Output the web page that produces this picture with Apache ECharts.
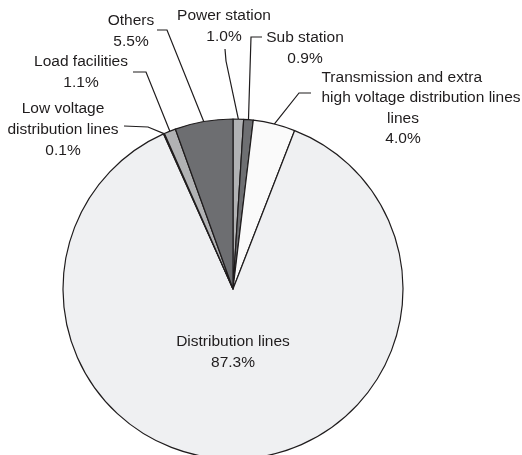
<!DOCTYPE html>
<html>
<head>
<meta charset="utf-8">
<script src="https://cdn.jsdelivr.net/npm/echarts@6/dist/echarts.min.js"></script>
<style>
  html, body { margin: 0; padding: 0; background: #fff; }
  #main { width: 522px; height: 455px; }
</style>
</head>
<body>
<div id="main"></div>
<script>
// slices, clockwise from 12 o'clock
var categories = [
  'Power station',
  'Sub station',
  'Transmission and extra\nhigh voltage distribution lines\nlines',
  'Distribution lines',
  'Low voltage\ndistribution lines',
  'Load facilities',
  'Others'
];
var shares = [1.0, 0.9, 4.0, 87.3, 0.1, 1.1, 5.5];

var sliceColors = ['#b1b2b4', '#6e6f72', '#fafafa', '#eff0f2', '#d8d9db', '#b1b2b4', '#6d6e71'];

// where each label text sits, and the two outer points of its leader line
var labelPos = [[224, 26], [305, 48], [421, 108], [233, 352], [63, 130], [81, 72], [131, 31]];
var leaderPts = [
  [[225, 49], [226, 61]],
  [[262, 37], [251, 37]],
  [[311, 93], [299, 93]],
  null,
  [[124, 126], [148, 127]],
  [[133, 72], [146, 72]],
  [[157, 30], [167, 30]]
];

var FONT = 'Liberation Sans, Arial, sans-serif';
var INK = '#1f1c1d';

var chart = echarts.init(document.getElementById('main'));

var pieData = categories.map(function (name, i) {
  return {
    name: name,
    value: shares[i],
    itemStyle: { color: sliceColors[i] },
    labelLine: { show: leaderPts[i] != null }
  };
});

function tok(align, pad) {
  return {
    align: align,
    fontFamily: FONT,
    fontSize: 15.5,
    lineHeight: 20.5,
    color: INK,
    padding: pad || 0
  };
}

chart.setOption({
  backgroundColor: '#fff',
  animation: false,
  series: [{
    type: 'pie',
    center: [233, 289],
    radius: 170,
    startAngle: 90,
    clockwise: true,
    avoidLabelOverlap: false,
    itemStyle: { borderColor: INK, borderWidth: 1.2 },
    label: {
      show: true,
      position: 'outside',
      color: INK,
      fontFamily: FONT,
      fontSize: 15.5,
      lineHeight: 21,
      align: 'center',
      formatter: function (p) {
        var pct = p.value.toFixed(1) + '%';
        // the transmission label has its first two lines flush left
        if (p.dataIndex === 2) {
          var parts = p.name.split('\n');
          return '{l|' + parts[0] + '}\n{l|' + parts[1] + '}\n{c|' + parts[2] + '}\n{c|' + pct + '}';
        }
        return p.name + '\n' + pct;
      },
      rich: {
        l: tok('left'),
        c: tok('center', [0, 36, 0, 0])
      }
    },
    labelLine: {
      show: true,
      lineStyle: { color: INK, width: 1.2 }
    },
    labelLayout: function (params) {
      var i = params.dataIndex;
      var res = {
        x: labelPos[i][0],
        y: labelPos[i][1],
        align: 'center',
        verticalAlign: 'middle'
      };
      if (leaderPts[i] && params.labelLinePoints) {
        var start = params.labelLinePoints[0];
        res.labelLinePoints = [start, leaderPts[i][1], leaderPts[i][0]];
      }
      return res;
    },
    emphasis: { disabled: true },
    data: pieData
  }]
});
</script>
</body>
</html>
